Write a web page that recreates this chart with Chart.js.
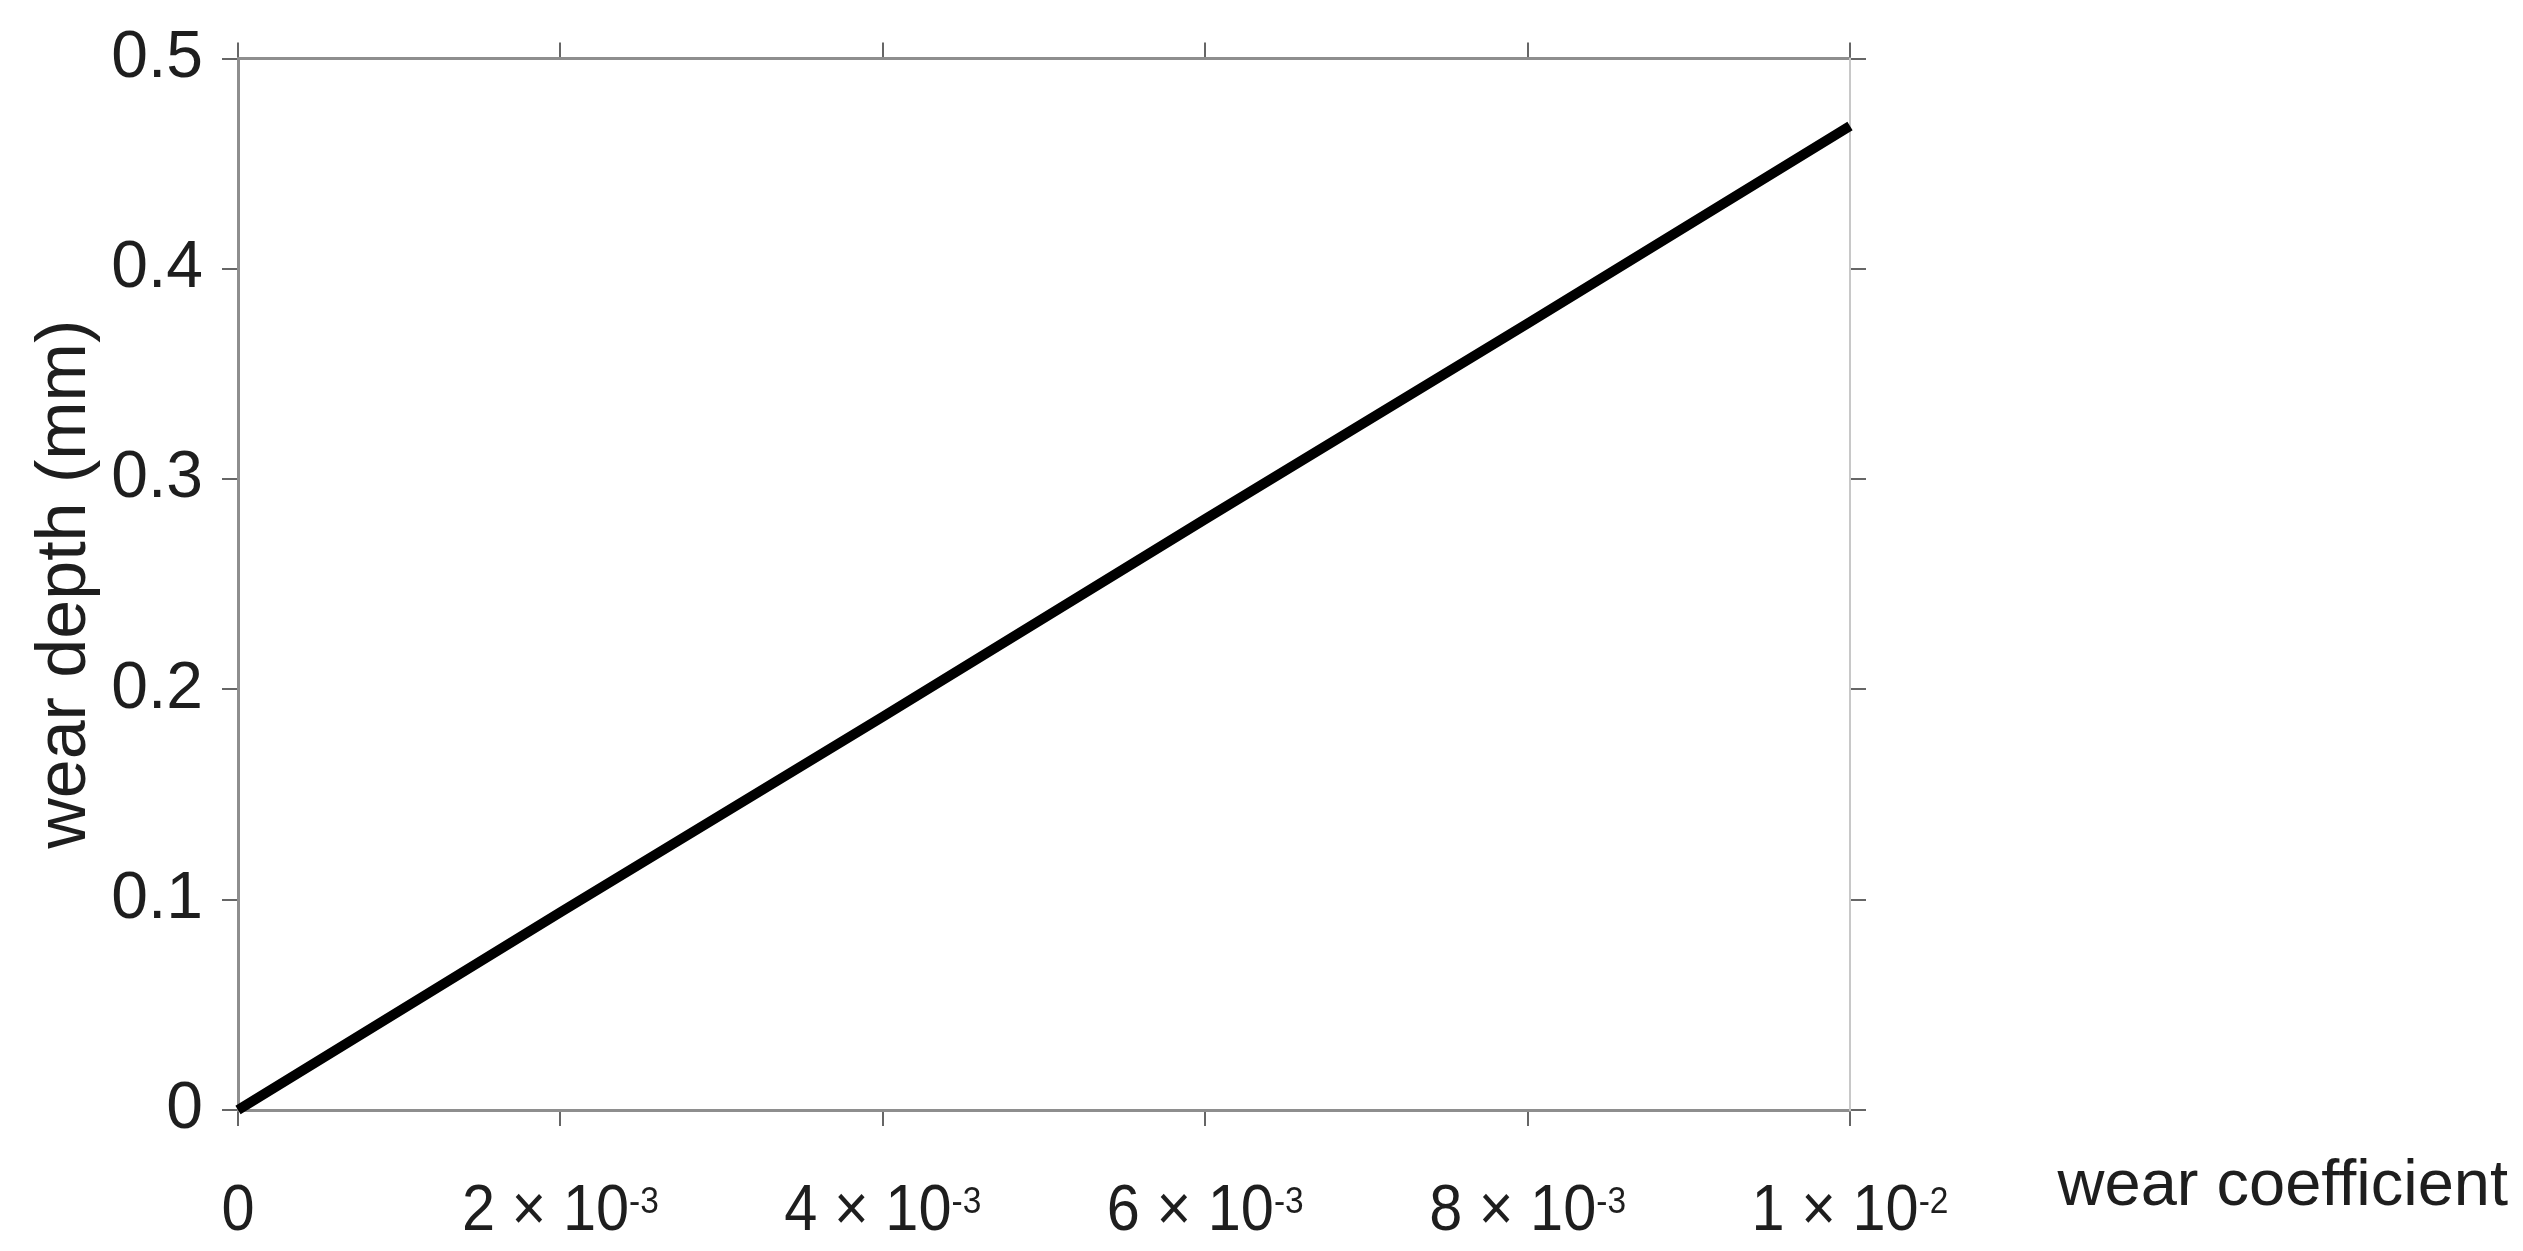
<!DOCTYPE html>
<html>
<head>
<meta charset="utf-8">
<script src="https://cdn.jsdelivr.net/npm/chart.js@4.4.1/dist/chart.umd.min.js"></script>
<style>
  html, body { margin: 0; padding: 0; background: #fff; }
  #wrap { width: 2523px; height: 1251px; }
</style>
</head>
<body>
<div id="wrap"><canvas id="chart"></canvas></div>
<script>
// values
const wearCoefficient = [0, 0.002, 0.004, 0.006, 0.008, 0.01]
const wearDepth = [0, 0.094, 0.187, 0.281, 0.374, 0.468]

const xTickValues = [0, 0.002, 0.004, 0.006, 0.008, 0.01]
const xTickMantissa = ['0', '2', '4', '6', '8', '1']
const xTickExponent = ['', '-3', '-3', '-3', '-3', '-2']
const yTickLabels = ['0', '0.1', '0.2', '0.3', '0.4', '0.5']

const xTitle = 'wear coefficient'
const yTitle = 'wear depth (mm)'

const FONT = '"Liberation Sans", Arial, sans-serif'
const TEXT = '#1e1e1e'
const AXIS = '#8e8e8e'
const TICK = '#666'

// x tick labels with superscript exponents, plus the x title off to the right
const xLabelPlugin = {
  id: 'xLabels',
  afterDraw(chart) {
    const { ctx } = chart
    const x = chart.scales.x
    const squeeze = 0.93
    const baseY = 1230
    ctx.save()
    ctx.fillStyle = TEXT
    ctx.textBaseline = 'alphabetic'
    ctx.textAlign = 'left'
    xTickValues.forEach((v, i) => {
      const px = x.getPixelForValue(v)
      const exp = xTickExponent[i]
      const base = exp ? xTickMantissa[i] + ' \u00d7 10' : xTickMantissa[i]
      ctx.font = '64px ' + FONT
      const wBase = ctx.measureText(base).width
      ctx.font = '36px ' + FONT
      const wExp = exp ? ctx.measureText(exp).width : 0
      const total = (wBase + wExp) * squeeze
      ctx.save()
      ctx.translate(px - total / 2, baseY)
      ctx.scale(squeeze, 1)
      ctx.font = '64px ' + FONT
      ctx.fillText(base, 0, 0)
      if (exp) {
        ctx.font = '36px ' + FONT
        ctx.fillText(exp, wBase, -17)
      }
      ctx.restore()
    })
    ctx.font = '65px ' + FONT
    ctx.textAlign = 'right'
    ctx.fillText(xTitle, 2508, 1205)
    ctx.restore()
  }
}

const edgeTicks = {
  drawOnChartArea: false,
  drawTicks: true,
  tickLength: 16,
  color: TICK,
  lineWidth: 2,
}

const ctx = document.getElementById('chart').getContext('2d')
new Chart(ctx, {
  type: 'line',
  data: {
    datasets: [
      {
        data: wearCoefficient.map((c, i) => ({ x: c, y: wearDepth[i] })),
        borderColor: '#000',
        borderWidth: 10,
        pointRadius: 0,
        fill: false,
        tension: 0,
        clip: false,
      },
    ],
  },
  options: {
    responsive: true,
    maintainAspectRatio: false,
    animation: false,
    layout: { padding: 0 },
    plugins: {
      legend: { display: false },
      tooltip: { enabled: false },
    },
    scales: {
      x: {
        type: 'linear',
        position: 'bottom',
        min: 0,
        max: 0.01,
        ticks: { stepSize: 0.002, display: false },
        grid: edgeTicks,
        border: { display: true, color: AXIS, width: 3 },
        afterFit: s => { s.height = 141 },
      },
      x2: {
        type: 'linear',
        position: 'top',
        min: 0,
        max: 0.01,
        ticks: { stepSize: 0.002, display: false },
        grid: edgeTicks,
        border: { display: true, color: AXIS, width: 3 },
        afterFit: s => { s.height = 52 },
      },
      y: {
        type: 'linear',
        position: 'left',
        min: 0,
        max: 0.5,
        ticks: {
          stepSize: 0.1,
          padding: 19,
          color: TEXT,
          font: { size: 66, family: FONT },
          callback: (v, i) => yTickLabels[i],
        },
        grid: edgeTicks,
        border: { display: true, color: AXIS, width: 3 },
        title: {
          display: true,
          text: yTitle,
          color: TEXT,
          font: { size: 70, family: FONT },
          padding: { top: 24, bottom: 0 },
        },
        afterFit: s => { s.width = 238 },
      },
      y2: {
        type: 'linear',
        position: 'right',
        min: 0,
        max: 0.5,
        ticks: { stepSize: 0.1, display: false },
        grid: edgeTicks,
        border: { display: true, color: '#c8c8c8', width: 2, dash: [3, 3] },
        afterFit: s => { s.width = 673 },
      },
    },
  },
  plugins: [xLabelPlugin],
})
</script>
</body>
</html>
